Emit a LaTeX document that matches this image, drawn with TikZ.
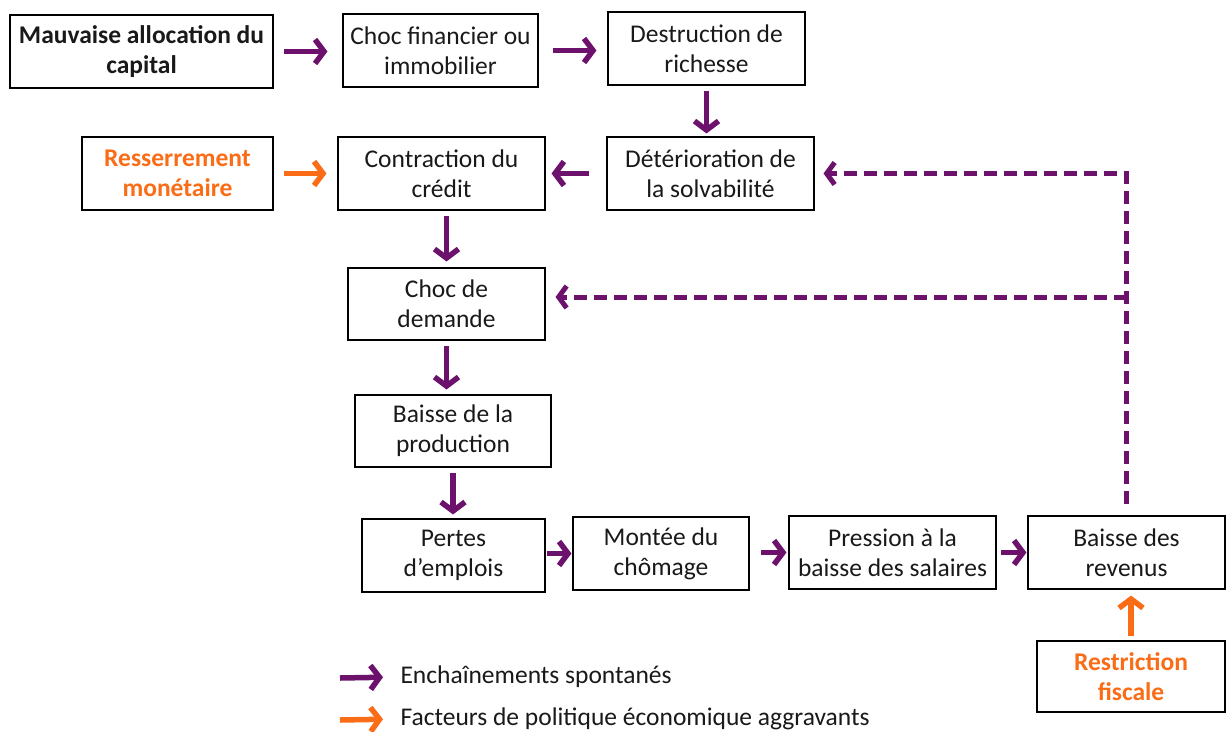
\documentclass[tikz,border=0pt]{standalone}
\usepackage{fontspec}
\setmainfont{Carlito}
\usetikzlibrary{arrows.meta}
\definecolor{purpleflow}{RGB}{108,18,108}
\definecolor{orangeflow}{RGB}{250,108,22}

\begin{document}
\begin{tikzpicture}[x=1pt,y=-1pt,font=\fontsize{25.5}{30}\selectfont]
      \tikzstyle{box}=[draw,line width=1.1pt,align=center,inner sep=0pt,text=black!90]
      \tikzstyle{strong box}=[box,font=\fontsize{25.5}{30}\selectfont\bfseries]
      \tikzstyle{spont}=[draw=purpleflow,line width=5.5pt,-{Straight Barb[length=9pt,width=24pt]}]
      \tikzstyle{aggrav}=[spont,draw=orangeflow]
      \tikzstyle{feedback}=[draw=purpleflow,line width=5pt,dash pattern=on 13pt off 7pt,-{Straight Barb[length=8pt,width=22pt]}]
      \useasboundingbox (0,0) rectangle (1226,731);
      \node(0)[strong box,minimum width=263pt,minimum height=73pt] at (141.5,51.5) {Mauvaise allocation du\\capital};
      \node(1)[box,minimum width=195pt,minimum height=73pt] at (440.5,50.5) {Choc financier ou\\immobilier};
      \node(2)[box,minimum width=197pt,minimum height=73pt] at (706.5,48.5) {Destruction de\\richesse};
      \node(3)[box,minimum width=207pt,minimum height=73pt] at (710.5,173.5) {Détérioration de\\la solvabilité};
      \node(4)[box,minimum width=207pt,minimum height=73pt] at (441.5,173.5) {Contraction du\\crédit};
      \node(5)[strong box,text=orangeflow,minimum width=191pt,minimum height=73pt] at (177.5,173.5) {Resserrement\\monétaire};
      \node(6)[box,minimum width=197pt,minimum height=72pt] at (446.5,304) {Choc de\\demande};
      \node(7)[box,minimum width=196pt,minimum height=72pt] at (453,431) {Baisse de la\\production};
      \node(8)[box,minimum width=183pt,minimum height=73pt] at (453.5,555.5) {Pertes\\d’emplois};
      \node(9)[box,minimum width=176pt,minimum height=73pt] at (661,553.5) {Montée du\\chômage};
      \node(10)[box,minimum width=207pt,minimum height=73pt] at (892.5,552.5) {Pression à la\\baisse des salaires};
      \node(11)[box,minimum width=197pt,minimum height=73pt] at (1126.5,552.5) {Baisse des\\revenus};
      \node(12)[strong box,text=orangeflow,minimum width=188pt,minimum height=71pt] at (1131,676.5) {Restriction\\fiscale};

      \draw[spont,shorten <=10pt,shorten >=15pt] (0.east) -- (1.west |- 0.east);
      \draw[spont,shorten <=14pt,shorten >=11pt] (1.east) -- (2.west |- 1.east);
      \draw[spont,shorten <=5pt,shorten >=3pt] (2.south) -- (2.south |- 3.north);
      \draw[spont,shorten <=17pt,shorten >=6pt] (3.west) -- (4.east);
      \draw[aggrav,shorten <=10pt,shorten >=11pt] (5.east) -- (4.west);
      \draw[spont,shorten <=5pt,shorten >=6pt] (6.north |- 4.south) -- (6.north);
      \draw[spont,shorten <=5pt,shorten >=5pt] (6.south) -- (6.south |- 7.north);
      \draw[spont,shorten <=5pt,shorten >=4pt] (7.south) -- (7.south |- 8.north);
      \draw[spont,shorten <=1pt,shorten >=1pt] (8.east |- 9.west) -- (9.west);
      \draw[spont,shorten <=11pt,shorten >=2pt] (9.east |- 10.west) -- (10.west);
      \draw[spont,shorten <=4pt,shorten >=1pt] (10.east) -- (11.west);
      \draw[aggrav,shorten <=4pt,shorten >=6pt] (12.north) -- (12.north |- 11.south);

      \draw[feedback] ([yshift=11pt]11.north) -- (11.north |- 3.east) -- ([xshift=9pt]3.east);
      \draw[feedback] (11.north |- 0,297) -- ([xshift=10pt,yshift=7pt]6.east);

      \coordinate (l1) at (340,678);
      \coordinate (l2) at (340,720);
      \node(13)[anchor=west,text=black!90] at (397,677) {Enchaînements spontanés};
      \node(14)[anchor=west,text=black!90] at (397,719) {Facteurs de politique économique aggravants};
      \draw[spont,shorten >=14pt] (l1) -- (13.west);
      \draw[aggrav,shorten >=14pt] (l2) -- (14.west);
  \end{tikzpicture}
\end{document}
